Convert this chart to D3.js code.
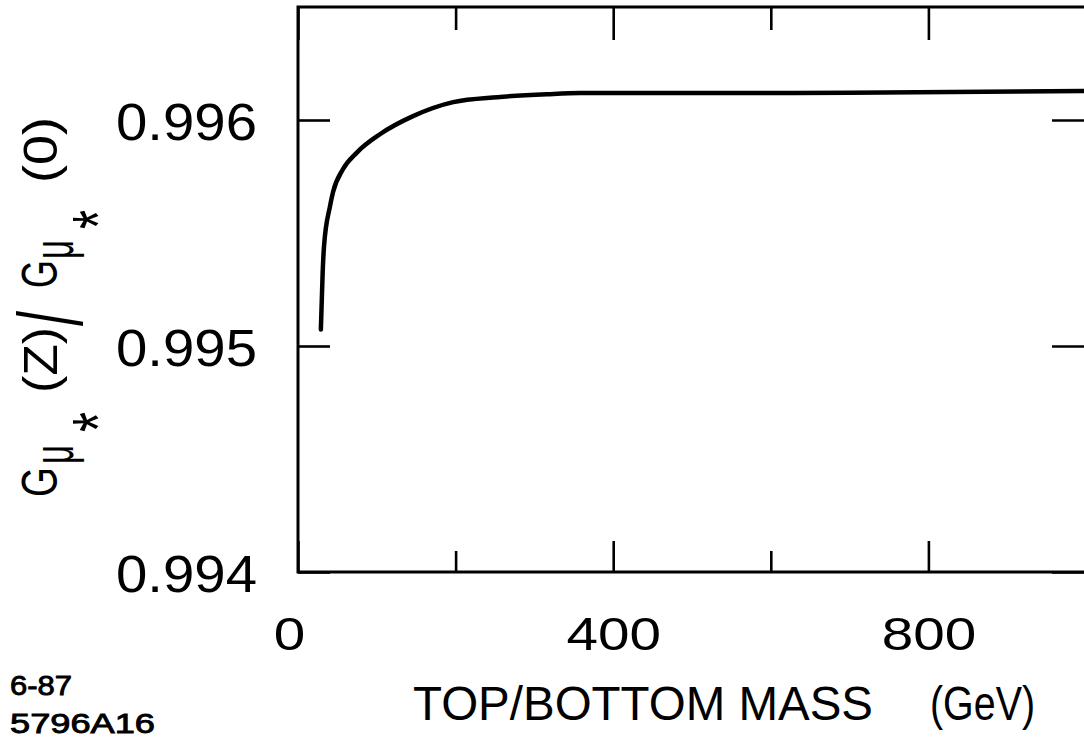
<!DOCTYPE html>
<html>
<head>
<meta charset="utf-8">
<script src="https://cdn.jsdelivr.net/npm/d3@7"></script>
<style>
  html, body { margin: 0; padding: 0; background: #fff; }
  svg { display: block; }
  text { font-family: "Liberation Sans", Arial, sans-serif; fill: #000; }
</style>
</head>
<body>
<svg id="chart" width="1084" height="738"></svg>
<script>
// Top/bottom mass (GeV) and the ratio G_mu*(Z)/G_mu*(0)
const massGeV = [29, 31.3, 33, 40.6, 44.4, 57, 75, 104, 146, 197, 253, 316, 358, 500, 700, 1000];
const ratio   = [0.995073, 0.995325, 0.995441, 0.995618, 0.995680, 0.995782, 0.995857, 0.995937,
                 0.996017, 0.996079, 0.996101, 0.996114, 0.996119, 0.996119, 0.996121, 0.996128];

const xTicks = [0, 200, 400, 600, 800, 1000];
const xLabelled = [0, 400, 800];
const yTicks = [0.994, 0.995, 0.996];
const yTickLabels = ["0.994", "0.995", "0.996"];

const svg = d3.select("#chart");
const plotLeft = 298, plotRight = 1086, plotTop = 7, plotBottom = 572;

const x = d3.scaleLinear().domain([0, 1000]).range([plotLeft, plotRight]);
const y = d3.scaleLinear().domain([0.994, 0.9965]).range([plotBottom, plotTop]);

const ink = "#000";

// bottom axis: ticks pointing inward, long at labelled values
const xAxis = d3.axisBottom(x)
  .tickValues(xTicks)
  .tickSizeInner(-31).tickSizeOuter(0).tickPadding(45)
  .tickFormat(d => xLabelled.includes(d) ? String(d) : "");
const gx = svg.append("g").attr("transform", `translate(0,${plotBottom})`).call(xAxis);
gx.select(".domain").remove();
gx.selectAll(".tick line")
  .attr("stroke", ink).attr("stroke-width", 2.6)
  .attr("y2", d => xLabelled.includes(d) ? -31 : -21);
gx.selectAll(".tick text")
  .attr("font-size", 46)
  .attr("font-family", "Liberation Sans, Arial, sans-serif")
  .attr("fill", ink)
  .attr("dx", d => d === 0 ? -9 : 0)
  .each(function(d) {
    if (xLabelled.includes(d)) {
      d3.select(this).attr("textLength", String(d).length * 31.5).attr("lengthAdjust", "spacingAndGlyphs");
    }
  });

// top axis mirror ticks
const xTop = d3.axisTop(x).tickValues(xTicks).tickSizeInner(-32).tickSizeOuter(0).tickFormat("");
const gxt = svg.append("g").attr("transform", `translate(0,${plotTop})`).call(xTop);
gxt.select(".domain").remove();
gxt.selectAll(".tick line")
  .attr("stroke", ink).attr("stroke-width", 2.6)
  .attr("y2", d => xLabelled.includes(d) ? 33 : 23);

// left axis
const yAxis = d3.axisLeft(y)
  .tickValues(yTicks)
  .tickSizeInner(-32).tickSizeOuter(0).tickPadding(41)
  .tickFormat((d, i) => yTickLabels[i]);
const gy = svg.append("g").attr("transform", `translate(${plotLeft},0)`).call(yAxis);
gy.select(".domain").remove();
gy.selectAll(".tick line").attr("stroke", ink).attr("stroke-width", 2.6);
gy.selectAll(".tick text")
  .attr("font-size", 52)
  .attr("font-family", "Liberation Sans, Arial, sans-serif")
  .attr("fill", ink)
  .attr("dy", "0.37em")
  .attr("textLength", 141).attr("lengthAdjust", "spacingAndGlyphs");

// right axis mirror ticks
const yRight = d3.axisRight(y).tickValues(yTicks).tickSizeInner(-34).tickSizeOuter(0).tickFormat("");
const gyr = svg.append("g").attr("transform", `translate(${plotRight},0)`).call(yRight);
gyr.select(".domain").remove();
gyr.selectAll(".tick line").attr("stroke", ink).attr("stroke-width", 2.6);

// frame
svg.append("rect")
  .attr("x", plotLeft).attr("y", plotTop)
  .attr("width", plotRight - plotLeft).attr("height", plotBottom - plotTop)
  .attr("fill", "none").attr("stroke", ink).attr("stroke-width", 3);

// curve
const line = d3.line().x((d, i) => x(massGeV[i])).y(d => y(d)).curve(d3.curveMonotoneX);
svg.append("path")
  .attr("d", line(ratio))
  .attr("fill", "none").attr("stroke", ink)
  .attr("stroke-width", 4.5).attr("stroke-linecap", "round").attr("stroke-linejoin", "round");

// x-axis title
svg.append("text").attr("x", 413).attr("y", 720).attr("font-size", 48)
  .attr("textLength", 460).attr("lengthAdjust", "spacingAndGlyphs")
  .text("TOP/BOTTOM MASS");
svg.append("text").attr("x", 930).attr("y", 720).attr("font-size", 48)
  .attr("textLength", 105).attr("lengthAdjust", "spacingAndGlyphs")
  .text("(GeV)");

// y-axis title, rotated, built from pieces (u along the text, v toward the baseline side)
const yt = svg.append("g").attr("transform", "translate(57,497) rotate(-90)");
const piece = (t, u, v, size, len, sy) => {
  const e = yt.append("text").attr("font-size", size).text(t);
  if (sy) e.attr("transform", `translate(${u},${v}) scale(1,${sy})`);
  else e.attr("x", u).attr("y", v);
  if (len) e.attr("textLength", len).attr("lengthAdjust", "spacingAndGlyphs");
  return e;
};
piece("G", 0, 0, 50, 30);
piece("μ", 33, 16, 58, 19);
piece("*", 65, 66, 72, 20);
piece("(Z)", 104, 0, 48, 66);
piece("/", 171, 25, 48, 15, 1.9);
piece("G", 209, 0, 50, 28);
piece("μ", 238, 16, 58, 19);
piece("*", 268, 66, 72, 19);
piece("(0)", 314, 0, 48, 66);

// figure id
svg.append("text").attr("x", 10).attr("y", 695).attr("font-size", 28)
  .attr("stroke", ink).attr("stroke-width", 0.9)
  .attr("textLength", 62).attr("lengthAdjust", "spacingAndGlyphs").text("6-87");
svg.append("text").attr("x", 10).attr("y", 733).attr("font-size", 28)
  .attr("stroke", ink).attr("stroke-width", 0.9)
  .attr("textLength", 145).attr("lengthAdjust", "spacingAndGlyphs").text("5796A16");
</script>
</body>
</html>
